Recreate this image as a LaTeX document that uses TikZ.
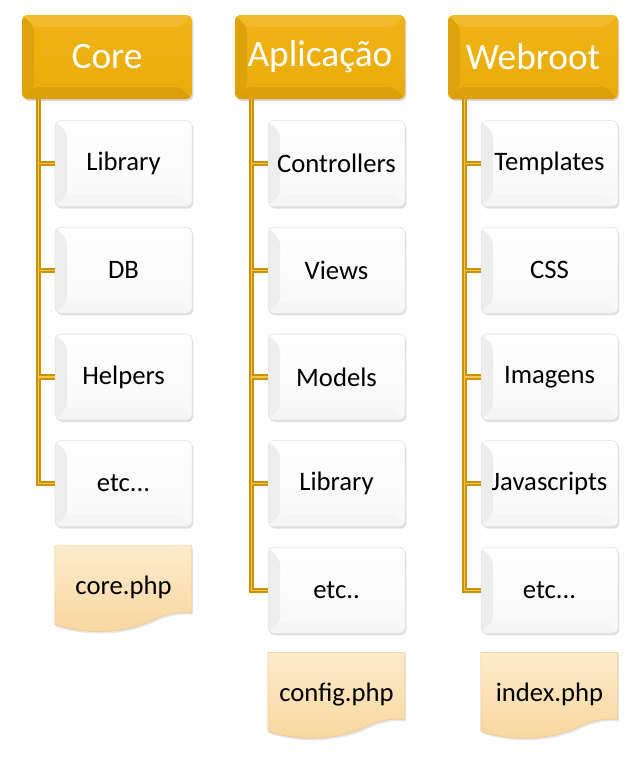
\documentclass[tikz,border=0pt]{standalone}
\usepackage{fontspec}
\setmainfont{Carlito}
\usetikzlibrary{shadows,backgrounds}

\definecolor{goldMain}{HTML}{EFB00C}
\definecolor{goldDark}{HTML}{C9920A}
\definecolor{goldLight}{HTML}{F3C84A}
\definecolor{docTop}{HTML}{FDEBCB}
\definecolor{docBot}{HTML}{F7D69C}

% folha de documento atras do node
\newcommand{\docfill}[1]{%
  \begin{pgfonlayer}{background}
    \path[shift={(#1.south west)}, top color=docTop, bottom color=docBot,
      draw=docBot!80!brown, line width=0.4pt,
      drop shadow={opacity=0.2, shadow xshift=1pt, shadow yshift=-1.5pt}]
      (0pt,63pt) -- (102.75pt,63pt) -- (102.75pt,13pt)
      .. controls (96pt,13pt) and (88pt,14pt) .. (75pt,8pt)
      .. controls (60pt,0pt) and (30pt,-6pt) .. (0pt,4pt) -- cycle;
  \end{pgfonlayer}}

\begin{document}
\begin{tikzpicture}[node distance=80pt, font=\fontsize{20}{24}\selectfont]
  \tikzstyle{head}=[rectangle, rounded corners=4pt, minimum width=127.5pt,
    minimum height=63pt, top color=goldMain!85!goldLight, bottom color=goldMain!85!goldDark,
    text=white, font=\fontsize{28}{32}\selectfont,
    drop shadow={opacity=0.3, shadow xshift=1pt, shadow yshift=-1.5pt},
    path picture={
      \fill[goldLight!50!goldMain] (path picture bounding box.north west) -- (path picture bounding box.north east)
        -- ([shift={(-9pt,-9pt)}]path picture bounding box.north east) -- ([shift={(9pt,-9pt)}]path picture bounding box.north west) -- cycle;
      \fill[goldDark!45!goldMain] (path picture bounding box.south west) -- (path picture bounding box.north west)
        -- ([shift={(9pt,-9pt)}]path picture bounding box.north west) -- ([shift={(9pt,9pt)}]path picture bounding box.south west) -- cycle;
      \fill[goldDark!55!goldMain] (path picture bounding box.south west) -- ([shift={(9pt,9pt)}]path picture bounding box.south west)
        -- ([shift={(-9pt,9pt)}]path picture bounding box.south east) -- (path picture bounding box.south east) -- cycle;}]
  \tikzstyle{item}=[rectangle, rounded corners=4pt, minimum width=102.75pt,
    minimum height=64.5pt, top color=white, bottom color=gray!6, draw=gray!25,
    drop shadow={opacity=0.25, shadow xshift=1pt, shadow yshift=-1.5pt},
    path picture={
      \fill[gray!14] (path picture bounding box.south west) -- (path picture bounding box.north west)
        -- ([shift={(9pt,-9pt)}]path picture bounding box.north west) -- ([shift={(9pt,9pt)}]path picture bounding box.south west) -- cycle;
      \fill[gray!8] (path picture bounding box.south west) -- ([shift={(9pt,9pt)}]path picture bounding box.south west)
        -- ([shift={(-9pt,9pt)}]path picture bounding box.south east) -- (path picture bounding box.south east) -- cycle;}]
  \tikzstyle{paper}=[rectangle, minimum width=102.75pt, minimum height=63pt]
  \tikzstyle{tree}=[line width=1.1pt, color=goldLight,
    preaction={draw=goldDark, line width=3.8pt}]

  \useasboundingbox (0pt,0pt) rectangle (480pt,-570pt);

  \node[head] (core) at (80.25pt,-42.75pt) {Core};
  \node[head] (app) at (240pt,-42.75pt) {Aplicação};
  \node[head] (web) at (399.75pt,-42.75pt) {Webroot};

  % Core
  \node[item] (c1) [below of=core, xshift=12.4pt] {Library};
  \node[item] (c2) [below of=c1] {DB};
  \node[item] (c3) [below of=c2] {Helpers};
  \node[item] (c4) [below of=c3] {etc...};
  \node[paper] (cf) [below of=c4, yshift=2pt] {core.php};

  % Aplicacao
  \node[item] (a1) [below of=app, xshift=12.4pt] {Controllers};
  \node[item] (a2) [below of=a1] {Views};
  \node[item] (a3) [below of=a2] {Models};
  \node[item] (a4) [below of=a3] {Library};
  \node[item] (a5) [below of=a4] {etc..};
  \node[paper] (af) [below of=a5, yshift=2pt] {config.php};

  % Webroot
  \node[item] (w1) [below of=web, xshift=12.4pt] {Templates};
  \node[item] (w2) [below of=w1] {CSS};
  \node[item] (w3) [below of=w2] {Imagens};
  \node[item] (w4) [below of=w3] {Javascripts};
  \node[item] (w5) [below of=w4] {etc...};
  \node[paper] (wf) [below of=w5, yshift=2pt] {index.php};

  \docfill{cf}
  \docfill{af}
  \docfill{wf}

  \coordinate (ct) at ([xshift=12.75pt]core.south west);
  \coordinate (at) at ([xshift=12.75pt]app.south west);
  \coordinate (wt) at ([xshift=12.75pt]web.south west);

  \draw[tree] (ct) |- (c4.west) (ct |- c1.west) -- (c1.west)
    (ct |- c2.west) -- (c2.west) (ct |- c3.west) -- (c3.west);
  \draw[tree] (at) |- (a5.west) (at |- a1.west) -- (a1.west)
    (at |- a2.west) -- (a2.west) (at |- a3.west) -- (a3.west)
    (at |- a4.west) -- (a4.west);
  \draw[tree] (wt) |- (w5.west) (wt |- w1.west) -- (w1.west)
    (wt |- w2.west) -- (w2.west) (wt |- w3.west) -- (w3.west)
    (wt |- w4.west) -- (w4.west);
\end{tikzpicture}
\end{document}
